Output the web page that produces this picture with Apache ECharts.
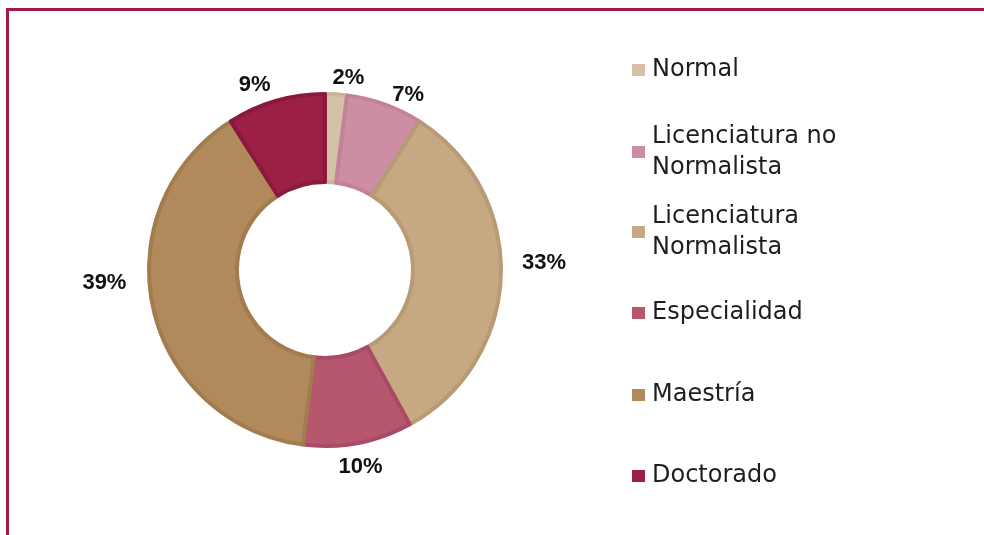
<!DOCTYPE html>
<html>
<head>
<meta charset="utf-8">
<script src="https://cdn.jsdelivr.net/npm/echarts@6/dist/echarts.min.js"></script>
<style>
  html, body { margin: 0; padding: 0; background: #fff; }
  #wrap { position: relative; width: 984px; height: 535px; overflow: hidden; }
  #frame { position: absolute; left: 6px; top: 8px; right: -10px; bottom: -10px;
           border-top: 3px solid #a3193f; border-left: 3px solid #a3193f; }
  #chart { position: absolute; left: 0; top: 0; width: 984px; height: 535px; }
</style>
</head>
<body>
<div id="wrap">
  <div id="frame"></div>
  <div id="chart"></div>
</div>
<script>
// datos del grafico
const categorias = ['Normal', 'Licenciatura no Normalista', 'Licenciatura Normalista', 'Especialidad', 'Maestría', 'Doctorado'];
const porcentajes = [2, 7, 33, 10, 39, 9];
const colores = ['#d5c1a6', '#cd8ea3', '#c6a983', '#b6566f', '#b08a5a', '#9c1f45'];
const bordes = ['#c9b497', '#c3829a', '#b89a74', '#a94b66', '#a27c4e', '#8a1a3c'];

// ajustes de las etiquetas (como en el original de Excel)
const ajusteX = [-9, 0, 8, -26, -14, 2];
const ajusteY = [-8, -2, -13, 16, -27, -8];

// posicion vertical de cada icono de la leyenda
const leyendaTop = [70, 152, 232, 313, 395, 476];
const saltos = { 'Licenciatura no Normalista': 'Licenciatura no\nNormalista', 'Licenciatura Normalista': 'Licenciatura\nNormalista' };

let myChart = echarts.init(document.getElementById('chart'));

const LH = 31;
let legends = categorias.map(function (name, i) {
    let dosLineas = !!saltos[name];
    return {
        data: [name],
        left: 632,
        top: dosLineas ? leyendaTop[i] - LH * 1.5 : leyendaTop[i] - LH / 2,
        icon: 'rect',
        itemWidth: 13,
        itemHeight: 12,
        itemGap: 0,
        padding: 0,
        selectedMode: false,
        itemStyle: { borderWidth: 0 },
        formatter: function (n) { return saltos[n] || n; },
        textStyle: {
            fontFamily: 'DejaVu Sans',
            fontSize: 24,
            color: '#1e1e1e',
            lineHeight: LH,
            padding: dosLineas ? [LH, 0, 0, 2] : [0, 0, 0, 2]
        }
    };
});

let option = {
    backgroundColor: 'transparent',
    animation: false,
    legend: legends,
    series: [{
        type: 'pie',
        center: [325, 270],
        radius: [88, 176],
        startAngle: 90,
        clockwise: true,
        avoidLabelOverlap: false,
        label: {
            show: true,
            position: 'outside',
            formatter: '{c}%',
            fontFamily: 'Liberation Sans',
            fontWeight: 'bold',
            fontSize: 22,
            color: '#111'
        },
        labelLine: { show: false, length: 8, length2: 0 },
        labelLayout: function (p) {
            return { dx: ajusteX[p.dataIndex], dy: ajusteY[p.dataIndex] };
        },
        emphasis: { disabled: true },
        data: categorias.map(function (name, i) {
            return {
                name: name,
                value: porcentajes[i],
                itemStyle: { color: colores[i], borderColor: bordes[i], borderWidth: 4 }
            };
        })
    }]
};

myChart.setOption(option);
</script>
</body>
</html>
